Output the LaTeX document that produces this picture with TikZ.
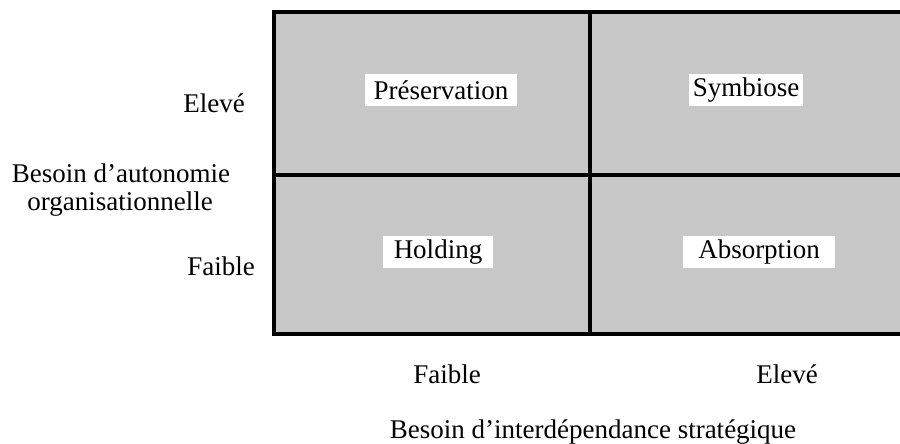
\documentclass[tikz,border=0pt]{standalone}
\usepackage{fontspec}
\setmainfont{Liberation Serif}
\usepackage{tikz}
\tikzstyle{tsLabel} = [
    text=black,
    font=\fontsize{27}{31}\selectfont,
    inner sep=0pt
]
\tikzstyle{tsQuadLabel} = [
    tsLabel,
    fill=white,
    minimum height=32pt
]
\tikzstyle{tsGrid} = [
    draw=black,
    line width=3.5pt]

\begin{document}
\begin{tikzpicture}[x=1pt, y=-1pt]
        \useasboundingbox (0,0) rectangle (900,444);

        % matrix frame (cut at the right edge)
        \coordinate (topleft) at (274,12);
        \coordinate (botleft) at (274,334);
        \coordinate (topright) at (920,12);
        \coordinate (botright) at (920,334);
        \coordinate (topmid) at (590,12);
        \coordinate (botmid) at (590,334);
        \coordinate (midleft) at (274,175);
        \coordinate (midright) at (920,175);

        \begin{scope}
        \clip (0,0) rectangle (900,444);
        \fill[black!22] (topleft) rectangle (botright);
        \draw[tsGrid] (topmid) -- (botmid);
        \draw[tsGrid] (midleft) -- (midright);
        \draw[tsGrid, line width=4pt] (topright) -- (topleft) -- (botleft) -- (botright);
        \end{scope}

        \node[tsQuadLabel, minimum width=152pt] (preservation) at (441,90) {Préservation};
        \node[tsQuadLabel, minimum width=114pt] (symbiose) at (746,90) {Symbiose};
        \node[tsQuadLabel, minimum width=110pt] (holding) at (438,252) {Holding};
        \node[tsQuadLabel, minimum width=152pt] (absorption) at (759,252) {Absorption};

        \node[tsLabel, anchor=base east] (highY) at (245,113) {Elevé};
        \node[tsLabel, anchor=base] (axisYa) at (121,182) {Besoin d’autonomie};
        \node[tsLabel, anchor=base] (axisYb) at (120,210) {organisationnelle};
        \node[tsLabel, anchor=base east] (lowY) at (255,275) {Faible};

        \node[tsLabel, anchor=base] (lowX) at (447,383) {Faible};
        \node[tsLabel, anchor=base] (highX) at (787,383) {Elevé};
        \node[tsLabel, anchor=base] (axisX) at (593,438) {Besoin d’interdépendance stratégique};

\end{tikzpicture}
\end{document}
